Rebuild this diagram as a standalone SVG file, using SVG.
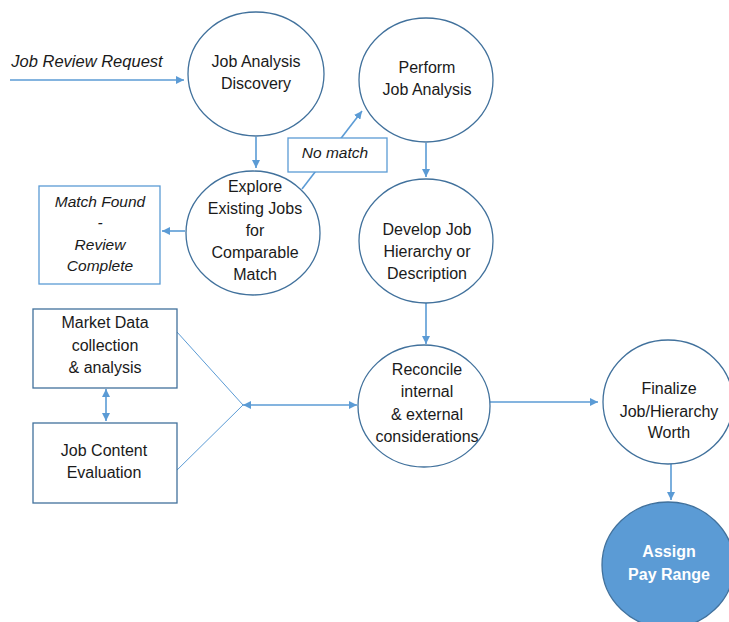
<svg xmlns="http://www.w3.org/2000/svg" width="729" height="622" viewBox="0 0 729 622">
  <style>
    .node { fill: #ffffff; stroke: #41719C; stroke-width: 1.3; }
    .box { fill: #ffffff; stroke: #41719C; stroke-width: 1.3; }
    .note { fill: #ffffff; stroke: #5B9BD5; stroke-width: 1.3; }
    .term { fill: #5B9BD5; stroke: #41719C; stroke-width: 1.3; }
    .lbl { font-family: "Liberation Sans", Arial, sans-serif; font-size: 16px; fill: #1a1a1a; text-anchor: middle; }
    .it { font-family: "Liberation Sans", Arial, sans-serif; font-size: 15.5px; font-style: italic; fill: #1a1a1a; text-anchor: middle; }
    .wl { font-family: "Liberation Sans", Arial, sans-serif; font-size: 16px; font-weight: bold; fill: #ffffff; text-anchor: middle; }
    .arr { fill: none; stroke: #5B9BD5; stroke-width: 1.6; }
    .thin { fill: none; stroke: #5B9BD5; stroke-width: 1; }
  </style>
  <defs>
    <marker id="head" viewBox="0 0 10 10" refX="10" refY="5" markerWidth="8" markerHeight="8" markerUnits="userSpaceOnUse" orient="auto-start-reverse">
      <path d="M0,0 L10,5 L0,10 z" fill="#5B9BD5"/>
    </marker>
  </defs>

  <rect width="729" height="622" fill="#ffffff"/>

  <!-- connectors -->
  <g id="connectors">
    <line class="arr" x1="10" y1="80" x2="184" y2="80" marker-end="url(#head)"/>
    <line class="arr" x1="256" y1="137" x2="256" y2="168" marker-end="url(#head)"/>
    <line class="arr" x1="185" y1="231" x2="162" y2="231" marker-end="url(#head)"/>
    <line class="arr" x1="302" y1="189" x2="362" y2="111" marker-end="url(#head)"/>
    <line class="arr" x1="426" y1="143" x2="426" y2="177" marker-end="url(#head)"/>
    <line class="arr" x1="426" y1="303" x2="426" y2="344" marker-end="url(#head)"/>
    <line class="arr" x1="490" y1="402" x2="598" y2="402" marker-end="url(#head)"/>
    <line class="arr" x1="671" y1="463" x2="671" y2="500" marker-end="url(#head)"/>
    <line class="arr" x1="243" y1="405" x2="357" y2="405" marker-start="url(#head)" marker-end="url(#head)"/>
    <line class="arr" x1="106" y1="389" x2="106" y2="421" marker-start="url(#head)" marker-end="url(#head)"/>
    <polyline class="thin" points="177,332 243,405 173,474"/>
  </g>

  <text class="it" x="87" y="67" style="font-size:16.5px">Job Review Request</text>

  <g id="job-analysis-discovery">
    <ellipse class="node" cx="256" cy="74" rx="68" ry="62"/>
    <text class="lbl" x="256" y="67">Job Analysis</text>
    <text class="lbl" x="256" y="89">Discovery</text>
  </g>

  <g id="perform-job-analysis">
    <ellipse class="node" cx="426" cy="80" rx="67" ry="62"/>
    <text class="lbl" x="427" y="73">Perform</text>
    <text class="lbl" x="427" y="95">Job Analysis</text>
  </g>

  <g id="no-match">
    <rect class="note" x="288" y="138" width="99" height="34"/>
    <text class="it" x="335" y="158">No match</text>
  </g>

  <g id="explore-existing">
    <ellipse class="node" cx="253" cy="233" rx="67" ry="62"/>
    <text class="lbl" x="255" y="192">Explore</text>
    <text class="lbl" x="255" y="214">Existing Jobs</text>
    <text class="lbl" x="255" y="236">for</text>
    <text class="lbl" x="255" y="258">Comparable</text>
    <text class="lbl" x="255" y="280">Match</text>
  </g>

  <g id="match-found">
    <rect class="note" x="39" y="186" width="121" height="98"/>
    <text class="it" x="100" y="207">Match Found</text>
    <text class="it" x="100" y="228">-</text>
    <text class="it" x="100" y="250">Review</text>
    <text class="it" x="100" y="271">Complete</text>
  </g>

  <g id="develop-job">
    <ellipse class="node" cx="426" cy="241" rx="67" ry="62"/>
    <text class="lbl" x="427" y="235">Develop Job</text>
    <text class="lbl" x="427" y="257">Hierarchy or</text>
    <text class="lbl" x="427" y="279">Description</text>
  </g>

  <g id="market-data">
    <rect class="box" x="33" y="309" width="144" height="79"/>
    <text class="lbl" x="105" y="328">Market Data</text>
    <text class="lbl" x="105" y="351">collection</text>
    <text class="lbl" x="105" y="373">&amp; analysis</text>
  </g>

  <g id="job-content">
    <rect class="box" x="33" y="423" width="144" height="80"/>
    <text class="lbl" x="104" y="456">Job Content</text>
    <text class="lbl" x="104" y="478">Evaluation</text>
  </g>

  <g id="reconcile">
    <ellipse class="node" cx="424" cy="406" rx="66" ry="61"/>
    <text class="lbl" x="427" y="375">Reconcile</text>
    <text class="lbl" x="427" y="397">internal</text>
    <text class="lbl" x="427" y="420">&amp; external</text>
    <text class="lbl" x="427" y="442">considerations</text>
  </g>

  <g id="finalize">
    <ellipse class="node" cx="668" cy="402" rx="65" ry="62"/>
    <text class="lbl" x="669" y="394">Finalize</text>
    <text class="lbl" x="669" y="417">Job/Hierarchy</text>
    <text class="lbl" x="669" y="438">Worth</text>
  </g>

  <g id="assign-pay-range">
    <ellipse class="term" cx="668" cy="565" rx="66" ry="63"/>
    <text class="wl" x="669" y="557">Assign</text>
    <text class="wl" x="669" y="580">Pay Range</text>
  </g>
</svg>
